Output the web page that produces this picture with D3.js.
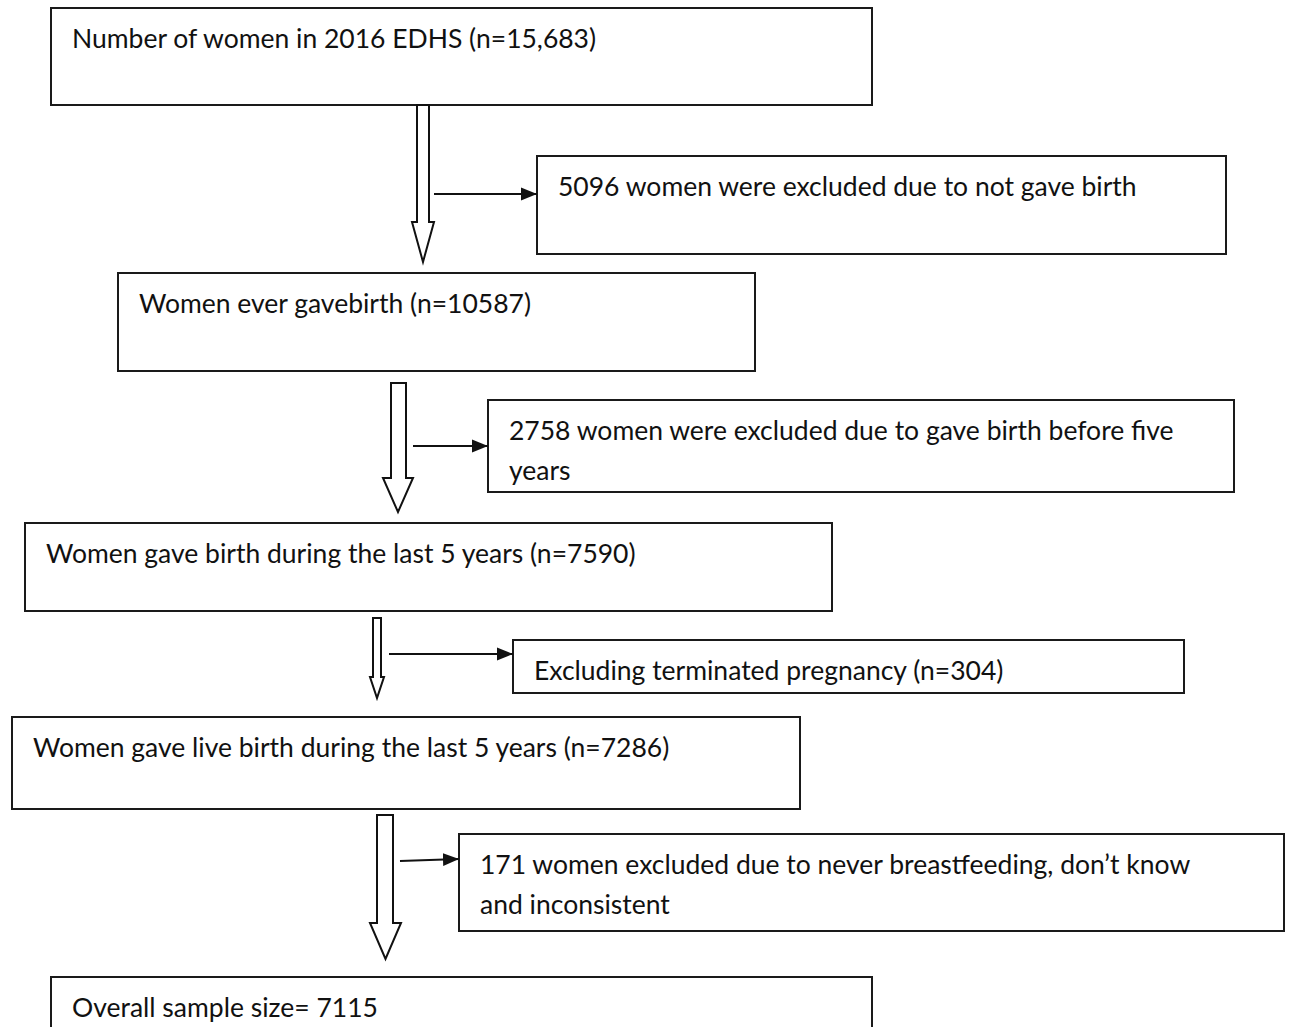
<!DOCTYPE html>
<html>
  <head>
    <meta charset="utf-8">
    <title>Sample selection flow</title>
    <script src="https://cdn.jsdelivr.net/npm/d3@7"></script>
    <style>
      body { margin: 0; background: #fff; }
      svg { display: block; }
      .box { fill: #fff; stroke: #1a1a1a; stroke-width: 2; }
      .label { font-family: Lato, "Open Sans", sans-serif; font-size: 26.5px; fill: #111; }
      .block { fill: #fff; stroke: #111; stroke-width: 2; stroke-linejoin: miter; }
      .side { stroke: #111; stroke-width: 2; fill: none; }
    </style>
  </head>
  <body>
    <svg id="chart" width="1289" height="1027">
      <defs>
        <marker id="head" viewBox="0 0 10 10" refX="10" refY="5" markerWidth="8" markerHeight="8" markerUnits="strokeWidth" orient="auto">
          <path d="M0,1 L10,5 L0,9 Z" fill="#111"></path>
        </marker>
      </defs>
      <g id="boxGroup"></g>
      <g id="arrowGroup"></g>
    </svg>

    <script>
      // text of the flow
      mainLabels = [
        ["Number of women in 2016 EDHS (n=15,683)"],
        ["Women ever gavebirth (n=10587)"],
        ["Women gave birth during the last 5 years (n=7590)"],
        ["Women gave live birth during the last 5 years (n=7286)"],
        ["Overall sample size= 7115"]
      ];
      exclLabels = [
        ["5096 women were excluded due to not gave birth"],
        ["2758 women were excluded due to gave birth before five", "years"],
        ["Excluding terminated pregnancy (n=304)"],
        ["171 women excluded due to never breastfeeding, don\u2019t know", "and inconsistent"]
      ];
      mainCounts = [15683, 10587, 7590, 7286, 7115];
      exclCounts = [5096, 2758, 304, 171];

      // geometry (pixels)
      mainBoxes = [
        { x0: 51, x1: 872, y0: 8, y1: 105 },
        { x0: 118, x1: 755, y0: 273, y1: 371 },
        { x0: 25, x1: 832, y0: 523, y1: 611 },
        { x0: 12, x1: 800, y0: 717, y1: 809 },
        { x0: 51, x1: 872, y0: 977, y1: 1040 }
      ];
      exclBoxes = [
        { x0: 537, x1: 1226, y0: 156, y1: 254 },
        { x0: 488, x1: 1234, y0: 400, y1: 492 },
        { x0: 513, x1: 1184, y0: 640, y1: 693 },
        { x0: 459, x1: 1284, y0: 834, y1: 931 }
      ];
      blockArrows = [
        { sx0: 417, sx1: 429, top: 105, neck: 222, hx0: 412, hx1: 434, tip: 262 },
        { sx0: 391, sx1: 406, top: 383, neck: 478, hx0: 383, hx1: 413, tip: 512 },
        { sx0: 373, sx1: 381, top: 618, neck: 677, hx0: 370, hx1: 384, tip: 698 },
        { sx0: 377, sx1: 393, top: 815, neck: 923, hx0: 370, hx1: 401, tip: 959 }
      ];
      sideArrows = [
        { x1: 434, y1: 194, x2: 537, y2: 194 },
        { x1: 413, y1: 446, x2: 488, y2: 446 },
        { x1: 389, y1: 654, x2: 513, y2: 654 },
        { x1: 400, y1: 861, x2: 459, y2: 859 }
      ];
      firstBaseline = 40;
      lineGap = 40;
      textIndent = 21;

      boxGroup = d3.select("#boxGroup");
      arrowGroup = d3.select("#arrowGroup");
      defs = d3.select("defs");

      allBoxes = mainBoxes.map((b, i) => ({ b: b, lines: mainLabels[i], id: "m" + i }))
        .concat(exclBoxes.map((b, i) => ({ b: b, lines: exclLabels[i], id: "e" + i })));

      // clip text to its box, the second excluded line is cut by the border
      defs.selectAll("clipPath")
          .data(allBoxes)
        .enter().append("clipPath")
          .attr("id", d => "clip-" + d.id)
        .append("rect")
          .attr("x", d => d.b.x0)
          .attr("y", d => d.b.y0)
          .attr("width", d => d.b.x1 - d.b.x0)
          .attr("height", d => d.b.y1 - d.b.y0);

      nodes = boxGroup.selectAll(".node")
          .data(allBoxes)
        .enter().append("g")
          .classed("node", true);

      nodes.append("rect")
        .classed("box", true)
        .attr("x", d => d.b.x0)
        .attr("y", d => d.b.y0)
        .attr("width", d => d.b.x1 - d.b.x0)
        .attr("height", d => d.b.y1 - d.b.y0);

      nodes.append("g")
          .attr("clip-path", d => "url(#clip-" + d.id + ")")
        .selectAll("text")
          .data(d => d.lines.map((t, k) => ({ t: t, k: k, b: d.b })))
        .enter().append("text")
          .classed("label", true)
          .attr("x", d => d.b.x0 + textIndent)
          .attr("y", d => d.b.y0 + firstBaseline + d.k * lineGap)
          .text(d => d.t);

      line = d3.line();

      arrowGroup.selectAll(".block")
          .data(blockArrows)
        .enter().append("path")
          .classed("block", true)
          .attr("d", a => line([
            [a.sx0, a.top], [a.sx1, a.top], [a.sx1, a.neck], [a.hx1, a.neck],
            [(a.hx0 + a.hx1) / 2, a.tip], [a.hx0, a.neck], [a.sx0, a.neck]
          ]) + "Z");

      arrowGroup.selectAll(".side")
          .data(sideArrows)
        .enter().append("line")
          .classed("side", true)
          .attr("x1", a => a.x1)
          .attr("y1", a => a.y1)
          .attr("x2", a => a.x2)
          .attr("y2", a => a.y2)
          .attr("marker-end", "url(#head)");
    </script>
  </body>
</html>
